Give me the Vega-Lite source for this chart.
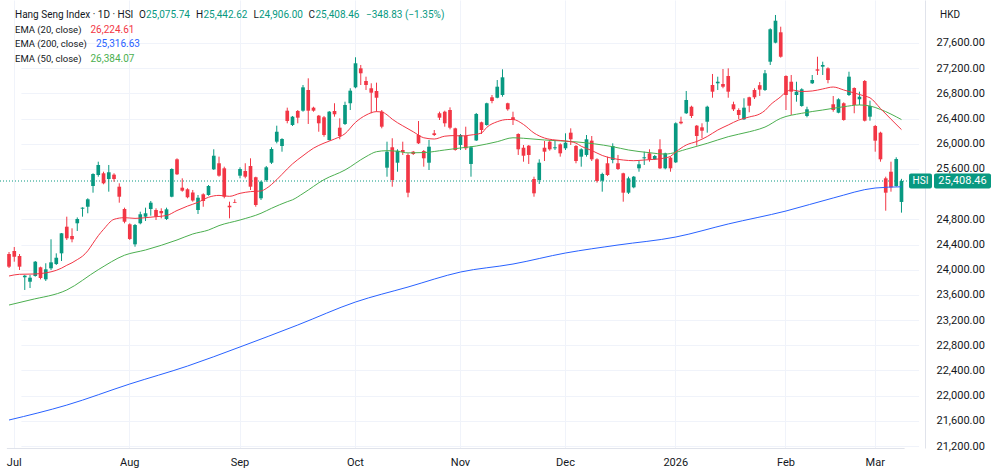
{
"$schema":"https://vega.github.io/schema/vega-lite/v6.json",
"width":925,"height":448,
"padding":{"left":0,"top":0,"right":75,"bottom":28},
"autosize":{"type":"none"},
"background":"#ffffff",
"config":{"font":"Roboto","view":{"stroke":null},"axis":{"labelFont":"Roboto"}},
"data":{"values":[
{"d":"2025-06-30","o":24249,"h":24281,"l":24027,"c":24048,"e20":23900,"e50":23439,"e200":21613},
{"d":"2025-07-02","o":24297,"h":24360,"l":24127,"c":24206},
{"d":"2025-07-03","o":24218,"h":24249,"l":23995,"c":24048,"e20":23927},
{"d":"2025-07-04","o":23880,"h":23916,"l":23678,"c":23905},
{"d":"2025-07-07","o":23809,"h":23916,"l":23709,"c":23873,"e50":23519},
{"d":"2025-07-08","o":23900,"h":24138,"l":23889,"c":24127,"e20":23932},
{"d":"2025-07-09","o":24038,"h":24048,"l":23847,"c":23868},
{"d":"2025-07-10","o":23847,"h":24102,"l":23821,"c":24006,"e20":23950},
{"d":"2025-07-11","o":24022,"h":24483,"l":23995,"c":24117},
{"d":"2025-07-14","o":24090,"h":24260,"l":24075,"c":24190,"e20":23990},
{"d":"2025-07-15","o":24260,"h":24583,"l":24138,"c":24578,"e20":24025},
{"d":"2025-07-16","o":24683,"h":24842,"l":24472,"c":24499,"e20":24070,"e50":23678,"e200":21850},
{"d":"2025-07-17","o":24535,"h":24657,"l":24435,"c":24483,"e20":24110},
{"d":"2025-07-18","o":24737,"h":24830,"l":24615,"c":24805,"e20":24160},
{"d":"2025-07-21","o":24969,"h":24991,"l":24842,"c":24985,"e20":24215},
{"d":"2025-07-22","o":25000,"h":25134,"l":24896,"c":25118,"e20":24300},
{"d":"2025-07-23","o":25329,"h":25531,"l":25223,"c":25520,"e20":24420},
{"d":"2025-07-24","o":25504,"h":25715,"l":25477,"c":25663,"e20":24540,"e50":24000},
{"d":"2025-07-25","o":25531,"h":25556,"l":25356,"c":25372,"e20":24640},
{"d":"2025-07-28","o":25440,"h":25663,"l":25239,"c":25547},
{"d":"2025-07-29","o":25509,"h":25531,"l":25397,"c":25440,"e20":24800},
{"d":"2025-07-30","o":25318,"h":25372,"l":25064,"c":25159},
{"d":"2025-07-31","o":24964,"h":24985,"l":24737,"c":24762,"e20":24826,"e50":24230},
{"d":"2025-08-01","o":24721,"h":24737,"l":24472,"c":24488,"e200":22185},
{"d":"2025-08-04","o":24403,"h":24726,"l":24365,"c":24710,"e20":24815},
{"d":"2025-08-05","o":24737,"h":24921,"l":24721,"c":24880},
{"d":"2025-08-06","o":24842,"h":24985,"l":24774,"c":24896,"e20":24826,"e50":24313},
{"d":"2025-08-07","o":24964,"h":25091,"l":24858,"c":25064},
{"d":"2025-08-08","o":24948,"h":24975,"l":24789,"c":24842,"e20":24842},
{"d":"2025-08-11","o":24932,"h":24975,"l":24816,"c":24896},
{"d":"2025-08-12","o":24805,"h":24985,"l":24789,"c":24959,"e20":24860},
{"d":"2025-08-13","o":25159,"h":25610,"l":25150,"c":25599},
{"d":"2025-08-14","o":25753,"h":25769,"l":25504,"c":25515,"e20":24940,"e50":24472},
{"d":"2025-08-15","o":25302,"h":25451,"l":25239,"c":25255},
{"d":"2025-08-18","o":25277,"h":25293,"l":25134,"c":25150,"e20":25010,"e200":22470},
{"d":"2025-08-19","o":25226,"h":25266,"l":25080,"c":25099,"e50":24567},
{"d":"2025-08-20","o":24948,"h":25186,"l":24885,"c":25143,"e20":25070},
{"d":"2025-08-21","o":25197,"h":25213,"l":25000,"c":25091},
{"d":"2025-08-22","o":25186,"h":25345,"l":25175,"c":25329,"e20":25150,"e50":24630},
{"d":"2025-08-25","o":25594,"h":25912,"l":25583,"c":25810},
{"d":"2025-08-26","o":25690,"h":25795,"l":25477,"c":25493,"e20":25180,"e50":24700},
{"d":"2025-08-27","o":25610,"h":25636,"l":25134,"c":25159},
{"d":"2025-08-28","o":25016,"h":25080,"l":24816,"c":24991,"e20":25165},
{"d":"2025-08-29","o":25075,"h":25118,"l":25059,"c":25064},
{"d":"2025-09-01","o":25493,"h":25626,"l":25451,"c":25599,"e20":25213,"e50":24789,"e200":22773},
{"d":"2025-09-02","o":25567,"h":25690,"l":25451,"c":25477},
{"d":"2025-09-03","o":25647,"h":25769,"l":25266,"c":25318,"e20":25240},
{"d":"2025-09-04","o":25467,"h":25477,"l":25000,"c":25028},
{"d":"2025-09-05","o":25134,"h":25413,"l":25107,"c":25397,"e20":25250,"e50":24896},
{"d":"2025-09-08","o":25424,"h":25647,"l":25397,"c":25626,"e20":25290},
{"d":"2025-09-09","o":25699,"h":25944,"l":25679,"c":25917,"e50":24975},
{"d":"2025-09-10","o":26033,"h":26287,"l":26007,"c":26191,"e20":25430},
{"d":"2025-09-11","o":25964,"h":26087,"l":25874,"c":26076},
{"d":"2025-09-12","o":26525,"h":26573,"l":26325,"c":26361,"e20":25600,"e50":25080},
{"d":"2025-09-15","o":26298,"h":26441,"l":26282,"c":26430,"e20":25680,"e50":25110},
{"d":"2025-09-16","o":26520,"h":26536,"l":26325,"c":26414,"e200":23122},
{"d":"2025-09-17","o":26525,"h":26933,"l":26509,"c":26896,"e20":25810,"e50":25210},
{"d":"2025-09-18","o":26854,"h":27039,"l":26314,"c":26525},
{"d":"2025-09-19","o":26573,"h":26588,"l":26509,"c":26525,"e20":25930},
{"d":"2025-09-22","o":26446,"h":26457,"l":26191,"c":26325},
{"d":"2025-09-23","o":26420,"h":26441,"l":26112,"c":26139,"e20":26010,"e50":25430},
{"d":"2025-09-24","o":26060,"h":26520,"l":26049,"c":26509},
{"d":"2025-09-25","o":26520,"h":26643,"l":26430,"c":26468,"e20":26075},
{"d":"2025-09-26","o":26255,"h":26404,"l":26071,"c":26123},
{"d":"2025-09-29","o":26314,"h":26668,"l":26298,"c":26616,"e20":26160,"e50":25583},
{"d":"2025-09-30","o":26643,"h":26881,"l":26536,"c":26843},
{"d":"2025-10-02","o":26896,"h":27373,"l":26881,"c":27278,"e20":26340,"e200":23487},
{"d":"2025-10-03","o":27198,"h":27251,"l":26933,"c":27119},
{"d":"2025-10-06","o":26997,"h":27065,"l":26854,"c":26933,"e20":26455,"e50":25795},
{"d":"2025-10-08","o":26881,"h":26960,"l":26484,"c":26811},
{"d":"2025-10-09","o":26838,"h":26970,"l":26509,"c":26731,"e20":26510,"e50":25874},
{"d":"2025-10-10","o":26509,"h":26536,"l":26245,"c":26271,"e20":26505},
{"d":"2025-10-13","o":25620,"h":26033,"l":25477,"c":25874,"e20":26460,"e50":25890},
{"d":"2025-10-14","o":25944,"h":26087,"l":25318,"c":25424,"e20":26390},
{"d":"2025-10-15","o":25699,"h":25912,"l":25556,"c":25890,"e50":25880},
{"d":"2025-10-16","o":25901,"h":26033,"l":25822,"c":25869,"e20":26285},
{"d":"2025-10-17","o":25822,"h":25848,"l":25150,"c":25223,"e50":25855,"e200":23725},
{"d":"2025-10-20","o":25874,"h":25885,"l":25822,"c":25837,"e20":26190},
{"d":"2025-10-21","o":26139,"h":26361,"l":25996,"c":26007},
{"d":"2025-10-22","o":25885,"h":25901,"l":25636,"c":25769,"e20":26095,"e50":25860},
{"d":"2025-10-23","o":25699,"h":26060,"l":25583,"c":25953},
{"d":"2025-10-24","o":26166,"h":26218,"l":26123,"c":26139,"e20":26075},
{"d":"2025-10-27","o":26484,"h":26509,"l":26377,"c":26414},
{"d":"2025-10-28","o":26509,"h":26525,"l":26271,"c":26325,"e20":26120,"e50":25901},
{"d":"2025-10-30","o":26536,"h":26578,"l":26229,"c":26255},
{"d":"2025-10-31","o":26245,"h":26255,"l":25890,"c":25901,"e20":26130},
{"d":"2025-11-03","o":25980,"h":26155,"l":25901,"c":26139,"e20":26123,"e50":25933,"e200":23963},
{"d":"2025-11-04","o":26123,"h":26271,"l":25901,"c":25928},
{"d":"2025-11-05","o":25679,"h":25964,"l":25477,"c":25944,"e20":26139},
{"d":"2025-11-06","o":26052,"h":26489,"l":26044,"c":26473,"e50":25964},
{"d":"2025-11-07","o":26341,"h":26351,"l":26155,"c":26218,"e20":26171},
{"d":"2025-11-10","o":26298,"h":26652,"l":26287,"c":26643,"e20":26260,"e50":25996},
{"d":"2025-11-11","o":26738,"h":26774,"l":26643,"c":26679},
{"d":"2025-11-12","o":26731,"h":27012,"l":26722,"c":26906,"e20":26350,"e50":26033},
{"d":"2025-11-13","o":26774,"h":27182,"l":26747,"c":27055},
{"d":"2025-11-14","o":26643,"h":26652,"l":26525,"c":26547,"e20":26385},
{"d":"2025-11-17","o":26420,"h":26509,"l":26298,"c":26377,"e20":26385,"e50":26095,"e200":24090},
{"d":"2025-11-18","o":26155,"h":26166,"l":25822,"c":25912},
{"d":"2025-11-19","o":25937,"h":25980,"l":25715,"c":25810,"e20":26306,"e50":26087},
{"d":"2025-11-20","o":25969,"h":25980,"l":25679,"c":25822},
{"d":"2025-11-21","o":25440,"h":25477,"l":25159,"c":25213,"e20":26171},
{"d":"2025-11-24","o":25424,"h":25753,"l":25361,"c":25699},
{"d":"2025-11-25","o":25937,"h":26044,"l":25726,"c":25874,"e20":26091,"e50":26060},
{"d":"2025-11-26","o":26033,"h":26060,"l":25890,"c":25912},
{"d":"2025-11-27","o":25928,"h":26060,"l":25901,"c":25944,"e20":26060,"e50":26050},
{"d":"2025-11-28","o":25991,"h":26007,"l":25795,"c":25848},
{"d":"2025-12-01","o":25928,"h":26166,"l":25901,"c":26017,"e20":26044,"e200":24265},
{"d":"2025-12-02","o":26176,"h":26245,"l":25980,"c":26071},
{"d":"2025-12-03","o":25964,"h":25980,"l":25690,"c":25726,"e20":26010,"e50":26030},
{"d":"2025-12-04","o":25795,"h":25928,"l":25636,"c":25912,"e20":25960},
{"d":"2025-12-05","o":25822,"h":26139,"l":25795,"c":26071},
{"d":"2025-12-08","o":26049,"h":26123,"l":25726,"c":25753,"e20":25893},
{"d":"2025-12-09","o":25753,"h":25769,"l":25382,"c":25409},
{"d":"2025-12-10","o":25413,"h":25540,"l":25239,"c":25520,"e20":25814},
{"d":"2025-12-11","o":25690,"h":25795,"l":25488,"c":25504},
{"d":"2025-12-12","o":25742,"h":26007,"l":25690,"c":25964,"e20":25767,"e50":25953},
{"d":"2025-12-15","o":25690,"h":25822,"l":25583,"c":25599,"e200":24392},
{"d":"2025-12-16","o":25531,"h":25540,"l":25080,"c":25223,"e20":25742},
{"d":"2025-12-17","o":25223,"h":25477,"l":25202,"c":25451,"e50":25901},
{"d":"2025-12-18","o":25308,"h":25488,"l":25293,"c":25477,"e20":25731},
{"d":"2025-12-19","o":25610,"h":25726,"l":25556,"c":25674},
{"d":"2025-12-22","o":25769,"h":25874,"l":25663,"c":25785,"e20":25742},
{"d":"2025-12-23","o":25848,"h":25912,"l":25715,"c":25753,"e50":25858},
{"d":"2025-12-24","o":25753,"h":25822,"l":25742,"c":25806,"e20":25753},
{"d":"2025-12-29","o":25912,"h":26071,"l":25599,"c":25610},
{"d":"2025-12-30","o":25610,"h":25858,"l":25594,"c":25848,"e20":25775,"e50":25835},
{"d":"2025-12-31","o":25779,"h":25795,"l":25556,"c":25610,"e20":25800,"e50":25845},
{"d":"2026-01-02","o":25705,"h":26340,"l":25694,"c":26325,"e20":25869,"e200":24519},
{"d":"2026-01-05","o":26350,"h":26430,"l":26309,"c":26325},
{"d":"2026-01-06","o":26484,"h":26838,"l":26473,"c":26695,"e20":25980,"e50":25912},
{"d":"2026-01-07","o":26588,"h":26604,"l":26409,"c":26441},
{"d":"2026-01-08","o":26287,"h":26298,"l":25969,"c":26123,"e20":26036},
{"d":"2026-01-09","o":26261,"h":26325,"l":26087,"c":26207},
{"d":"2026-01-12","o":26350,"h":26604,"l":26176,"c":26588,"e20":26115,"e50":26007},
{"d":"2026-01-13","o":26933,"h":27108,"l":26731,"c":26827},
{"d":"2026-01-14","o":26960,"h":27065,"l":26854,"c":26985,"e20":26218},
{"d":"2026-01-15","o":26949,"h":27187,"l":26881,"c":26906},
{"d":"2026-01-16","o":27076,"h":27198,"l":26731,"c":26827,"e20":26298,"e50":26112,"e200":24726},
{"d":"2026-01-19","o":26627,"h":26668,"l":26520,"c":26547},
{"d":"2026-01-20","o":26536,"h":26563,"l":26393,"c":26457,"e20":26377},
{"d":"2026-01-21","o":26388,"h":26722,"l":26377,"c":26573},
{"d":"2026-01-22","o":26738,"h":26747,"l":26500,"c":26604,"e20":26425,"e50":26190},
{"d":"2026-01-23","o":26854,"h":26881,"l":26711,"c":26738},
{"d":"2026-01-26","o":26930,"h":26980,"l":26760,"c":26860,"e20":26473,"e50":26235},
{"d":"2026-01-27","o":26854,"h":27171,"l":26838,"c":27119,"e20":26528,"e50":26265},
{"d":"2026-01-28","o":27303,"h":27833,"l":27251,"c":27818,"e20":26616},
{"d":"2026-01-29","o":27605,"h":28045,"l":27595,"c":27954},
{"d":"2026-01-30","o":27770,"h":27859,"l":27367,"c":27382,"e20":26747,"e50":26404},
{"d":"2026-02-02","o":27076,"h":27087,"l":26536,"c":26774,"e20":26822,"e200":24932},
{"d":"2026-02-03","o":26985,"h":27092,"l":26457,"c":26827,"e20":26854},
{"d":"2026-02-04","o":26774,"h":26985,"l":26668,"c":26827},
{"d":"2026-02-05","o":26600,"h":26881,"l":26588,"c":26865,"e20":26830,"e50":26484},
{"d":"2026-02-06","o":26441,"h":26588,"l":26420,"c":26547},
{"d":"2026-02-09","o":26960,"h":27092,"l":26949,"c":27012,"e20":26838},
{"d":"2026-02-10","o":27182,"h":27382,"l":27092,"c":27160},
{"d":"2026-02-11","o":27224,"h":27303,"l":27092,"c":27251,"e20":26870,"e50":26536},
{"d":"2026-02-12","o":27198,"h":27214,"l":26960,"c":27012},
{"d":"2026-02-13","o":26627,"h":26758,"l":26509,"c":26536,"e20":26901,"e200":25139},
{"d":"2026-02-16","o":26493,"h":26722,"l":26484,"c":26706},
{"d":"2026-02-20","o":26643,"h":26658,"l":26366,"c":26377,"e20":26854,"e50":26588},
{"d":"2026-02-23","o":26774,"h":27144,"l":26758,"c":27065},
{"d":"2026-02-24","o":26885,"h":26896,"l":26484,"c":26616,"e20":26806},
{"d":"2026-02-25","o":26706,"h":26827,"l":26616,"c":26747,"e50":26616},
{"d":"2026-02-26","o":26997,"h":27012,"l":26354,"c":26366,"e20":26758},
{"d":"2026-02-27","o":26430,"h":26684,"l":26366,"c":26600,"e20":26730,"e50":26600},
{"d":"2026-03-02","o":26282,"h":26298,"l":25874,"c":26049,"e200":25297},
{"d":"2026-03-03","o":26176,"h":26191,"l":25715,"c":25753,"e20":26560,"e50":26545},
{"d":"2026-03-04","o":25451,"h":25477,"l":24937,"c":25223},
{"d":"2026-03-05","o":25556,"h":25715,"l":25239,"c":25308,"e20":26390},
{"d":"2026-03-06","o":25329,"h":25785,"l":25318,"c":25757.29},
{"d":"2026-03-09","o":25075.74,"h":25442.62,"l":24906.00,"c":25408.46,"e20":26224.61,"e50":26384.07,"e200":25316.63}
]},
"layer":[
{"data":{"values":[{"p":25408.46}]},
 "mark":{"type":"rule","color":"#089981","strokeWidth":1,"strokeDash":[1,2]},
 "encoding":{"y":{"field":"p","type":"quantitative","scale":{"domain":[21168.6,28282.8],"nice":false,"zero":false},
   "axis":{"orient":"right","title":null,"values":[21200,21600,22000,22400,22800,23200,23600,24000,24400,24800,25600,26000,26400,26800,27200,27600],"format":",.2f","grid":true,"gridColor":"#F0F3FA","ticks":false,"domain":true,"domainColor":"#E0E3EB","labelFontSize":11,"labelColor":"#131722","labelPadding":11,"labelAlign":"left"}}}},
{"mark":{"type":"rule","strokeWidth":1},
 "encoding":{
  "x":{"field":"d","type":"ordinal","scale":{"range":[6.4,904.1],"paddingInner":0,"paddingOuter":0},
   "axis":{"title":null,"values":["2025-07-02","2025-08-01","2025-09-01","2025-10-02","2025-11-03","2025-12-01","2026-01-02","2026-02-02","2026-03-02"],"labelExpr":"datum.value == '2026-01-02' ? '2026' : utcFormat(toDate(datum.value), '%b')","labelAngle":0,"grid":true,"gridColor":"#F0F3FA","ticks":false,"domain":true,"domainColor":"#E0E3EB","labelFontSize":11,"labelColor":"#131722","labelPadding":8,"bandPosition":0.5}},
  "y":{"field":"l","type":"quantitative","scale":{"domain":[21168.6,28282.8],"nice":false,"zero":false},
   "axis":{"orient":"right","title":null,"values":[21200,21600,22000,22400,22800,23200,23600,24000,24400,24800,25600,26000,26400,26800,27200,27600],"format":",.2f","grid":true,"gridColor":"#F0F3FA","ticks":false,"domain":true,"domainColor":"#E0E3EB","labelFontSize":11,"labelColor":"#131722","labelPadding":11,"labelAlign":"left"}},
  "y2":{"field":"h"},
  "color":{"condition":{"test":"datum.c >= datum.o","value":"#089981"},"value":"#F23645"}}},
{"mark":{"type":"bar","width":{"band":0.7}},
 "encoding":{
  "x":{"field":"d","type":"ordinal","scale":{"range":[6.4,904.1],"paddingInner":0,"paddingOuter":0},
   "axis":{"title":null,"values":["2025-07-02","2025-08-01","2025-09-01","2025-10-02","2025-11-03","2025-12-01","2026-01-02","2026-02-02","2026-03-02"],"labelExpr":"datum.value == '2026-01-02' ? '2026' : utcFormat(toDate(datum.value), '%b')","labelAngle":0,"grid":true,"gridColor":"#F0F3FA","ticks":false,"domain":true,"domainColor":"#E0E3EB","labelFontSize":11,"labelColor":"#131722","labelPadding":8,"bandPosition":0.5}},
  "y":{"field":"o","type":"quantitative","scale":{"domain":[21168.6,28282.8],"nice":false,"zero":false},
   "axis":{"orient":"right","title":null,"values":[21200,21600,22000,22400,22800,23200,23600,24000,24400,24800,25600,26000,26400,26800,27200,27600],"format":",.2f","grid":true,"gridColor":"#F0F3FA","ticks":false,"domain":true,"domainColor":"#E0E3EB","labelFontSize":11,"labelColor":"#131722","labelPadding":11,"labelAlign":"left"}},
  "y2":{"field":"c"},
  "color":{"condition":{"test":"datum.c >= datum.o","value":"#089981"},"value":"#F23645"}}},
{"transform":[{"filter":"isValid(datum.e200)"}],
 "mark":{"type":"line","color":"#2962FF","strokeWidth":1,"interpolate":"monotone"},
 "encoding":{
  "x":{"field":"d","type":"ordinal","scale":{"range":[6.4,904.1],"paddingInner":0,"paddingOuter":0},
   "axis":{"title":null,"values":["2025-07-02","2025-08-01","2025-09-01","2025-10-02","2025-11-03","2025-12-01","2026-01-02","2026-02-02","2026-03-02"],"labelExpr":"datum.value == '2026-01-02' ? '2026' : utcFormat(toDate(datum.value), '%b')","labelAngle":0,"grid":true,"gridColor":"#F0F3FA","ticks":false,"domain":true,"domainColor":"#E0E3EB","labelFontSize":11,"labelColor":"#131722","labelPadding":8,"bandPosition":0.5}},
  "y":{"field":"e200","type":"quantitative","scale":{"domain":[21168.6,28282.8],"nice":false,"zero":false},
   "axis":{"orient":"right","title":null,"values":[21200,21600,22000,22400,22800,23200,23600,24000,24400,24800,25600,26000,26400,26800,27200,27600],"format":",.2f","grid":true,"gridColor":"#F0F3FA","ticks":false,"domain":true,"domainColor":"#E0E3EB","labelFontSize":11,"labelColor":"#131722","labelPadding":11,"labelAlign":"left"}}}},
{"transform":[{"filter":"isValid(datum.e50)"}],
 "mark":{"type":"line","color":"#4CAF50","strokeWidth":1,"interpolate":"monotone"},
 "encoding":{
  "x":{"field":"d","type":"ordinal","scale":{"range":[6.4,904.1],"paddingInner":0,"paddingOuter":0},
   "axis":{"title":null,"values":["2025-07-02","2025-08-01","2025-09-01","2025-10-02","2025-11-03","2025-12-01","2026-01-02","2026-02-02","2026-03-02"],"labelExpr":"datum.value == '2026-01-02' ? '2026' : utcFormat(toDate(datum.value), '%b')","labelAngle":0,"grid":true,"gridColor":"#F0F3FA","ticks":false,"domain":true,"domainColor":"#E0E3EB","labelFontSize":11,"labelColor":"#131722","labelPadding":8,"bandPosition":0.5}},
  "y":{"field":"e50","type":"quantitative","scale":{"domain":[21168.6,28282.8],"nice":false,"zero":false},
   "axis":{"orient":"right","title":null,"values":[21200,21600,22000,22400,22800,23200,23600,24000,24400,24800,25600,26000,26400,26800,27200,27600],"format":",.2f","grid":true,"gridColor":"#F0F3FA","ticks":false,"domain":true,"domainColor":"#E0E3EB","labelFontSize":11,"labelColor":"#131722","labelPadding":11,"labelAlign":"left"}}}},
{"transform":[{"filter":"isValid(datum.e20)"}],
 "mark":{"type":"line","color":"#F23645","strokeWidth":1,"interpolate":"monotone"},
 "encoding":{
  "x":{"field":"d","type":"ordinal","scale":{"range":[6.4,904.1],"paddingInner":0,"paddingOuter":0},
   "axis":{"title":null,"values":["2025-07-02","2025-08-01","2025-09-01","2025-10-02","2025-11-03","2025-12-01","2026-01-02","2026-02-02","2026-03-02"],"labelExpr":"datum.value == '2026-01-02' ? '2026' : utcFormat(toDate(datum.value), '%b')","labelAngle":0,"grid":true,"gridColor":"#F0F3FA","ticks":false,"domain":true,"domainColor":"#E0E3EB","labelFontSize":11,"labelColor":"#131722","labelPadding":8,"bandPosition":0.5}},
  "y":{"field":"e20","type":"quantitative","scale":{"domain":[21168.6,28282.8],"nice":false,"zero":false},
   "axis":{"orient":"right","title":null,"values":[21200,21600,22000,22400,22800,23200,23600,24000,24400,24800,25600,26000,26400,26800,27200,27600],"format":",.2f","grid":true,"gridColor":"#F0F3FA","ticks":false,"domain":true,"domainColor":"#E0E3EB","labelFontSize":11,"labelColor":"#131722","labelPadding":11,"labelAlign":"left"}}}},
{"data":{"values":[{}]},"mark":{"type":"rect","x":909,"x2":932,"y":173.5,"y2":188.5,"fill":"#089981","cornerRadius":2}},
{"data":{"values":[{}]},"mark":{"type":"text","x":920.5,"y":181,"text":"HSI","align":"center","baseline":"middle","fontSize":10,"color":"#ffffff"}},
{"data":{"values":[{}]},"mark":{"type":"rect","x":934,"x2":991,"y":173.5,"y2":188.5,"fill":"#089981","cornerRadius":2}},
{"data":{"values":[{}]},"mark":{"type":"text","x":962.5,"y":181,"text":"25,408.46","align":"center","baseline":"middle","fontSize":11,"color":"#ffffff"}},
{"data":{"values":[{}]},"mark":{"type":"text","x":950,"y":15,"text":"HKD","align":"center","baseline":"middle","fontSize":10,"color":"#131722"}},
{"data":{"values":[{}]},"mark":{"type":"text","x":15,"y":15,"text":"Hang Seng Index · 1D · HSI","align":"left","baseline":"middle","fontSize":10,"color":"#131722"}},
{"data":{"values":[{}]},"mark":{"type":"text","x":139,"y":15,"text":"O","align":"left","baseline":"middle","fontSize":10,"color":"#131722"}},
{"data":{"values":[{}]},"mark":{"type":"text","x":146,"y":15,"text":"25,075.74","align":"left","baseline":"middle","fontSize":10,"color":"#089981"}},
{"data":{"values":[{}]},"mark":{"type":"text","x":196,"y":15,"text":"H","align":"left","baseline":"middle","fontSize":10,"color":"#131722"}},
{"data":{"values":[{}]},"mark":{"type":"text","x":203.5,"y":15,"text":"25,442.62","align":"left","baseline":"middle","fontSize":10,"color":"#089981"}},
{"data":{"values":[{}]},"mark":{"type":"text","x":253.5,"y":15,"text":"L","align":"left","baseline":"middle","fontSize":10,"color":"#131722"}},
{"data":{"values":[{}]},"mark":{"type":"text","x":259,"y":15,"text":"24,906.00","align":"left","baseline":"middle","fontSize":10,"color":"#089981"}},
{"data":{"values":[{}]},"mark":{"type":"text","x":308.5,"y":15,"text":"C","align":"left","baseline":"middle","fontSize":10,"color":"#131722"}},
{"data":{"values":[{}]},"mark":{"type":"text","x":315.5,"y":15,"text":"25,408.46","align":"left","baseline":"middle","fontSize":10,"color":"#089981"}},
{"data":{"values":[{}]},"mark":{"type":"text","x":366,"y":15,"text":"−348.83 (−1.35%)","align":"left","baseline":"middle","fontSize":10,"color":"#089981"}},
{"data":{"values":[{}]},"mark":{"type":"text","x":15,"y":29.5,"text":"EMA (20, close)","align":"left","baseline":"middle","fontSize":9.5,"color":"#131722"}},
{"data":{"values":[{}]},"mark":{"type":"text","x":90.5,"y":29.5,"text":"26,224.61","align":"left","baseline":"middle","fontSize":10,"color":"#F23645"}},
{"data":{"values":[{}]},"mark":{"type":"text","x":15,"y":44,"text":"EMA (200, close)","align":"left","baseline":"middle","fontSize":9.5,"color":"#131722"}},
{"data":{"values":[{}]},"mark":{"type":"text","x":96,"y":44,"text":"25,316.63","align":"left","baseline":"middle","fontSize":10,"color":"#2962FF"}},
{"data":{"values":[{}]},"mark":{"type":"text","x":15,"y":58.5,"text":"EMA (50, close)","align":"left","baseline":"middle","fontSize":9.5,"color":"#131722"}},
{"data":{"values":[{}]},"mark":{"type":"text","x":90.5,"y":58.5,"text":"26,384.07","align":"left","baseline":"middle","fontSize":10,"color":"#4CAF50"}}
]
}
